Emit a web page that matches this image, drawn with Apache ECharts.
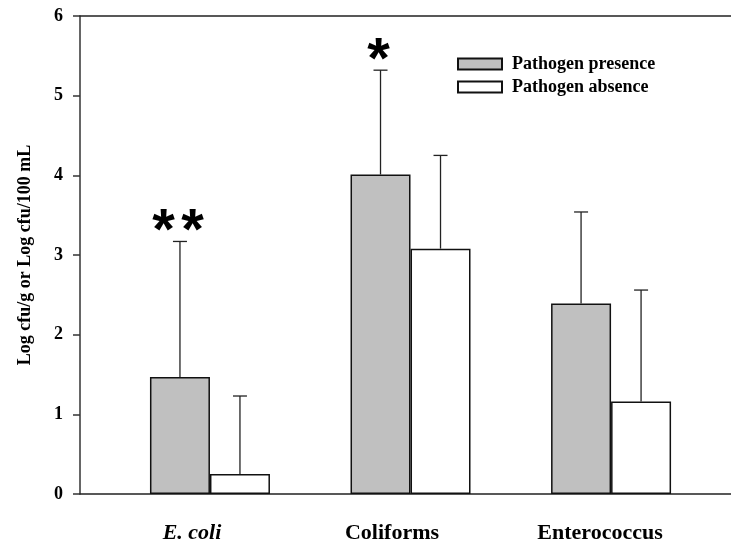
<!DOCTYPE html>
<html><head><meta charset="utf-8">
<script src="https://cdn.jsdelivr.net/npm/echarts@6/dist/echarts.min.js"></script>
<style>html,body{margin:0;padding:0;background:#fff}#c{width:731px;height:545px}</style>
</head><body><div id="c"></div>
<script>
const categories = ['E. coli', 'Coliforms', 'Enterococcus'];
const categoryPos = [0, 1, 2];
const presenceMean = [1.47, 4.01, 2.39];
const presenceUpper = [3.17, 5.32, 3.54];
const absenceMean = [0.25, 3.08, 1.16];
const absenceUpper = [1.23, 4.25, 2.56];
const significance = ['**', '*', ''];
const yTicks = [0, 1, 2, 3, 4, 5, 6];
const seriesNames = ['Pathogen presence', 'Pathogen absence'];

const SERIF = '"Liberation Serif", "Times New Roman", serif';
const chart = echarts.init(document.getElementById('c'), null, {renderer: 'canvas'});

function errRender(offset, withSig) {
  return function (params, api) {
    const x = api.value(0), base = api.value(1), top = api.value(2);
    const p0 = api.coord([x, base]);
    const p1 = api.coord([x, top]);
    const cx = p0[0] + offset;
    const children = [
      {type: 'line', shape: {x1: cx, y1: p0[1], x2: cx, y2: p1[1]}, style: {stroke: '#222', lineWidth: 1.3}},
      {type: 'line', shape: {x1: cx - 7, y1: p1[1], x2: cx + 7, y2: p1[1]}, style: {stroke: '#222', lineWidth: 1.3}}
    ];
    if (withSig) {
      const s = significance[params.dataIndex];
      const n = s.length, step = 29;
      for (let k = 0; k < n; k++) {
        children.push({type: 'text', x: cx - 2 + (k - (n - 1) / 2) * step, y: p1[1] - 8,
          style: {text: s[k], fill: '#000', font: 'bold 58px "Liberation Sans", Arial, sans-serif', align: 'center', verticalAlign: 'middle'}});
      }
    }
    return {type: 'group', children: children};
  };
}

const labelRich = {
  a: {fontFamily: SERIF, fontWeight: 'bold', fontStyle: 'italic', fontSize: 22, color: '#000', padding: [0, 36, 0, 0]},
  b: {fontFamily: SERIF, fontWeight: 'bold', fontSize: 22, color: '#000', padding: [0, 37, 0, 0]},
  c: {fontFamily: SERIF, fontWeight: 'bold', fontSize: 22, color: '#000', padding: [0, 22, 0, 0]}
};

const option = {
  animation: false,
  backgroundColor: '#fff',
  grid: {left: 80, right: 0, top: 16, bottom: 51},
  legend: {
    orient: 'vertical', left: 452, top: 50, itemWidth: 44, itemHeight: 11, itemGap: 5,
    icon: 'rect', data: seriesNames,
    textStyle: {fontFamily: SERIF, fontWeight: 'bold', fontSize: 18, color: '#000', padding: [0, 0, 0, 5]}
  },
  xAxis: [{
    type: 'value', min: -0.648, max: 2.598,
    axisLine: {show: true, onZero: false, lineStyle: {color: '#222', width: 1.5}},
    axisTick: {show: false}, splitLine: {show: false},
    axisLabel: {
      customValues: categoryPos, margin: 28,
      fontFamily: SERIF, fontWeight: 'bold', fontSize: 22, color: '#000',
      formatter: function (v) {
        const i = Math.round(v);
        return '{' + 'abc'[i] + '|' + categories[i] + '}';
      },
      rich: labelRich
    }
  }, {
    type: 'value', position: 'top', min: -0.648, max: 2.598,
    axisLine: {show: true, onZero: false, lineStyle: {color: '#222', width: 1.5}},
    axisTick: {show: false}, axisLabel: {show: false}, splitLine: {show: false}
  }],
  yAxis: {
    type: 'value', min: yTicks[0], max: yTicks[yTicks.length - 1], interval: 1,
    name: 'Log cfu/g or Log cfu/100 mL', nameLocation: 'middle', nameGap: 46,
    nameTextStyle: {fontFamily: SERIF, fontWeight: 'bold', fontSize: 18, color: '#000'},
    axisLine: {show: true, onZero: false, lineStyle: {color: '#333', width: 1.5}},
    axisTick: {show: true, inside: false, length: 7, lineStyle: {color: '#333', width: 1.5}},
    splitLine: {show: false},
    axisLabel: {margin: 17, fontFamily: SERIF, fontWeight: 'bold', fontSize: 18, color: '#000'}
  },
  series: [
    {name: seriesNames[0], type: 'bar', barWidth: 60, barGap: '0%',
      data: categoryPos.map((x, i) => [x, presenceMean[i]]),
      itemStyle: {color: '#c0c0c0', borderColor: '#111', borderWidth: 1.5}},
    {name: seriesNames[1], type: 'bar', barWidth: 60, barGap: '0%',
      data: categoryPos.map((x, i) => [x, absenceMean[i]]),
      itemStyle: {color: '#fff', borderColor: '#111', borderWidth: 1.5}},
    {type: 'custom', z: 5, renderItem: errRender(-30, true),
      data: categoryPos.map((x, i) => [x, presenceMean[i], presenceUpper[i]])},
    {type: 'custom', z: 5, renderItem: errRender(30, false),
      data: categoryPos.map((x, i) => [x, absenceMean[i], absenceUpper[i]])}
  ]
};
chart.setOption(option);
</script>
</body></html>
